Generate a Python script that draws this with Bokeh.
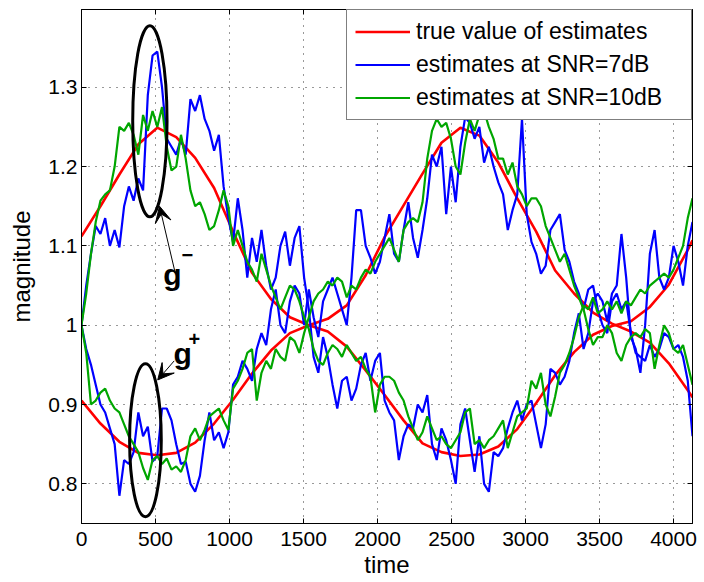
from bokeh.plotting import figure
from bokeh.models import (Range1d, FixedTicker, LinearAxis, Legend, LegendItem,
                          Label, Arrow, VeeHead, CustomJSTickFormatter)
from bokeh.embed import file_html
from bokeh.resources import INLINE

# ---- data -------------------------------------------------------------
# time index of the estimates (one value every 32 samples)
time = list(range(0, 4129, 32))

# true magnitudes of the two estimated gains
true_time = list(range(0, 4097, 128)) + [4128]
true_a = [1.112, 1.150, 1.190, 1.228, 1.249, 1.237, 1.211, 1.173, 1.118, 1.066,
          1.033, 1.010, 1.000, 0.992, 0.973, 0.943, 0.912, 0.880, 0.851, 0.840,
          0.835, 0.837, 0.847, 0.869, 0.902, 0.937, 0.966, 0.988, 0.999, 1.005,
          1.023, 1.051, 1.095, 1.107]
true_b = [0.905, 0.876, 0.853, 0.839, 0.836, 0.839, 0.852, 0.876, 0.906, 0.939,
          0.968, 0.990, 1.000, 1.008, 1.025, 1.063, 1.111, 1.151, 1.191, 1.230,
          1.249, 1.239, 1.205, 1.160, 1.118, 1.069, 1.040, 1.016, 1.002, 0.992,
          0.978, 0.952, 0.918, 0.909]

# estimates at SNR = 7 dB
snr7_a = [
    1.00, 1.05, 1.09, 1.125, 1.115, 1.135, 1.10, 1.12, 1.098, 1.15, 1.175, 1.157,
    1.185, 1.17, 1.29, 1.34, 1.345, 1.30, 1.235, 1.225, 1.215, 1.235, 1.215, 1.285,
    1.27, 1.29, 1.26, 1.245, 1.22, 1.24, 1.175, 1.135, 1.105, 1.16,
    1.12, 1.06, 1.11, 1.08, 1.12, 1.075, 1.045, 1.06, 1.10, 1.118, 1.075, 1.11,
    1.125, 1.06, 1.02, 0.96, 0.94, 0.985, 0.96, 0.925, 0.895, 0.93, 0.935, 0.905,
    0.92, 0.95, 0.965, 0.93, 0.955, 0.965, 0.905,
    0.89, 0.88, 0.83, 0.86, 0.875, 0.87, 0.90, 0.89, 0.912, 0.85, 0.83, 0.87,
    0.855, 0.83, 0.80, 0.875, 0.895, 0.855, 0.815, 0.86, 0.80, 0.79, 0.84, 0.835,
    0.845, 0.87, 0.89, 0.905, 0.88, 0.90, 0.905, 0.875,
    0.845, 0.875, 0.945, 0.94, 0.925, 0.935, 0.955, 0.99, 1.015, 0.97, 0.99, 1.03,
    1.04, 1.03, 1.005, 1.04, 1.05, 1.115, 1.06, 0.985, 0.97, 0.94, 1.0, 1.09,
    1.12, 1.06, 1.045, 1.06, 1.10, 1.08, 1.05, 1.10, 1.13,
]
snr7_b = [
    1.00, 0.97, 0.95, 0.925, 0.90, 0.89, 0.87, 0.85, 0.785, 0.83, 0.825, 0.84,
    0.89, 0.86, 0.872, 0.828, 0.835, 0.895, 0.895, 0.88, 0.85, 0.825, 0.828, 0.80,
    0.79, 0.81, 0.855, 0.89, 0.855, 0.865, 0.845, 0.865, 0.925, 0.935,
    0.955, 0.945, 0.93, 0.97, 0.99, 0.975, 1.02, 1.045, 1.0, 0.99, 1.03, 1.05,
    1.04, 1.0, 1.045, 1.01, 0.985, 1.03, 1.045, 1.06, 1.04, 1.02, 1.0, 1.06,
    1.145, 1.145, 1.10, 1.085, 1.065, 1.08, 1.11,
    1.14, 1.09, 1.08, 1.12, 1.155, 1.11, 1.085, 1.12, 1.16, 1.215, 1.20, 1.225,
    1.14, 1.20, 1.155, 1.225, 1.262, 1.255, 1.235, 1.25, 1.205, 1.225, 1.20, 1.18,
    1.165, 1.12, 1.145, 1.165, 1.26, 1.14, 1.105, 1.09,
    1.065, 1.075, 1.12, 1.13, 1.14, 1.095, 1.08, 1.055, 1.04, 1.02, 1.045, 1.05,
    1.02, 1.00, 0.99, 1.03, 1.04, 1.02, 1.03, 0.99, 0.965, 0.96, 0.955, 0.975,
    0.96, 0.97, 0.99, 0.985, 0.97, 0.975, 0.96, 0.93, 0.86,
]

# estimates at SNR = 10 dB
snr10_a = [
    1.00, 1.04, 1.09, 1.13, 1.157, 1.165, 1.17, 1.20, 1.25, 1.245, 1.255, 1.24,
    1.215, 1.265, 1.245, 1.27, 1.25, 1.275, 1.225, 1.195, 1.20, 1.24, 1.21, 1.17,
    1.15, 1.155, 1.14, 1.12, 1.125, 1.145, 1.17, 1.15, 1.10, 1.12,
    1.10, 1.08, 1.07, 1.055, 1.09, 1.07, 1.05, 1.035, 1.02, 1.035, 1.05, 1.045,
    1.03, 1.01, 0.995, 0.97, 0.955, 0.95, 0.965, 0.975, 0.97, 0.96, 0.975, 0.965,
    0.955, 0.96, 0.945, 0.935, 0.89, 0.925, 0.935,
    0.935, 0.93, 0.915, 0.905, 0.885, 0.87, 0.855, 0.865, 0.885, 0.87, 0.855, 0.86,
    0.85, 0.845, 0.855, 0.865, 0.89, 0.895, 0.85, 0.855, 0.845, 0.855, 0.86, 0.87,
    0.88, 0.845, 0.865, 0.885, 0.89, 0.895, 0.93, 0.92,
    0.94, 0.90, 0.885, 0.91, 0.94, 0.95, 0.965, 0.985, 1.01, 1.025, 1.02, 1.035,
    1.015, 1.02, 1.03, 1.02, 1.03, 1.015, 1.03, 1.025, 1.035, 1.045, 1.04, 1.05,
    1.055, 1.06, 1.065, 1.06, 1.07, 1.085, 1.10, 1.135, 1.16,
]
snr10_b = [
    1.00, 0.965, 0.90, 0.905, 0.915, 0.92, 0.905, 0.895, 0.89, 0.875, 0.86, 0.85,
    0.84, 0.82, 0.805, 0.83, 0.835, 0.825, 0.832, 0.818, 0.822, 0.815, 0.83, 0.86,
    0.87, 0.855, 0.868, 0.885, 0.89, 0.895, 0.88, 0.868, 0.92, 0.93,
    0.945, 0.965, 0.97, 0.905, 0.94, 0.955, 0.945, 0.97, 0.96, 0.955, 0.985, 0.98,
    0.965, 0.99, 1.01, 1.03, 1.04, 1.045, 1.055, 1.05, 1.06, 1.055, 1.035, 1.05,
    1.045, 1.06, 1.07, 1.065, 1.08, 1.09, 1.10,
    1.11, 1.095, 1.08, 1.12, 1.13, 1.135, 1.13, 1.155, 1.21, 1.245, 1.26, 1.25,
    1.255, 1.235, 1.20, 1.19, 1.23, 1.26, 1.245, 1.265, 1.27, 1.25, 1.235, 1.21,
    1.21, 1.19, 1.205, 1.175, 1.165, 1.15, 1.16, 1.16,
    1.15, 1.125, 1.11, 1.095, 1.08, 1.09, 1.07, 1.05, 1.035, 1.02, 0.995, 0.975,
    0.985, 0.985, 1.00, 0.99, 0.965, 0.955, 0.975, 0.985, 0.99, 0.985, 0.995, 0.99,
    0.945, 0.975, 1.0, 0.99, 0.97, 0.965, 0.975, 0.95, 0.925,
]

for series in (snr7_a, snr7_b, snr10_a, snr10_b):
    assert len(series) == len(time)
assert len(true_a) == len(true_time) == len(true_b)

x_ticks = [0, 500, 1000, 1500, 2000, 2500, 3000, 3500, 4000]
y_ticks = [0.8, 0.9, 1.0, 1.1, 1.2, 1.3]
legend_labels = ["true value of estimates", "estimates at SNR=7dB",
                 "estimates at SNR=10dB"]

# highlighted regions around the first peak of each gain
marks_x = [462, 432]
marks_y = [1.257, 0.855]
marks_w = [232, 214]
marks_h = [0.241, 0.193]

FONT = "Liberation Sans"
RED, BLUE, GREEN = "#ff0000", "#0000ff", "#00a600"

# ---- figure -----------------------------------------------------------
p = figure(width=704, height=582, output_backend="svg", toolbar_location=None,
           x_range=Range1d(0, 4128), y_range=Range1d(0.75, 1.398),
           min_border_left=81, min_border_right=12, min_border_top=9,
           min_border_bottom=59)
p.background_fill_color = "white"
p.border_fill_color = "white"
p.outline_line_color = "black"
p.outline_line_width = 1

r_true = p.line(true_time, true_a, line_color=RED, line_width=2.6)
p.line(true_time, true_b, line_color=RED, line_width=2.6)
r_snr7 = p.line(time, snr7_a, line_color=BLUE, line_width=2.2)
p.line(time, snr7_b, line_color=BLUE, line_width=2.2)
r_snr10 = p.line(time, snr10_a, line_color=GREEN, line_width=2.2)
p.line(time, snr10_b, line_color=GREEN, line_width=2.2)

p.ellipse(x=marks_x, y=marks_y, width=marks_w, height=marks_h,
          fill_color=None, line_color="black", line_width=3)

# arrows pointing at the highlighted regions
p.add_layout(Arrow(end=VeeHead(size=16, fill_color="black", line_color="black"),
                   x_start=633, y_start=1.066, x_end=527, y_end=1.150,
                   line_color="black", line_width=1))
p.add_layout(Arrow(end=VeeHead(size=16, fill_color="black", line_color="black"),
                   x_start=626, y_start=0.955, x_end=515, y_end=0.931,
                   line_color="black", line_width=1))

for gx, gy, sx, sy, sup in [(553, 1.064, 676, 1.088, "\u2212"),
                             (622, 0.964, 723, 0.982, "+")]:
    p.add_layout(Label(x=gx, y=gy, text="g", text_font=FONT,
                       text_font_size="30px", text_font_style="bold",
                       text_baseline="alphabetic", text_color="black"))
    p.add_layout(Label(x=sx, y=sy, text=sup, text_font=FONT,
                       text_font_size="20px", text_font_style="bold",
                       text_baseline="middle", text_color="black"))

# ---- axes -------------------------------------------------------------
for ax in (p.xaxis[0], p.yaxis[0]):
    ax.major_tick_in = 5
    ax.major_tick_out = 0
    ax.minor_tick_line_color = None
    ax.axis_line_color = "black"
    ax.major_tick_line_color = "black"
    ax.major_label_text_font = FONT
    ax.major_label_text_font_size = "21px"
    ax.major_label_text_color = "black"
    ax.axis_label_text_font = FONT
    ax.axis_label_text_font_size = "24px"
    ax.axis_label_text_font_style = "normal"
    ax.axis_label_text_color = "black"

p.xaxis.ticker = FixedTicker(ticks=x_ticks)
p.yaxis.ticker = FixedTicker(ticks=y_ticks)
p.yaxis.formatter = CustomJSTickFormatter(
    code="return Number(tick.toFixed(1)).toString();")
p.xaxis.axis_label = "time"
p.yaxis.axis_label = "magnitude"
p.xaxis.major_label_standoff = 8
p.yaxis.major_label_standoff = 4
p.xaxis.axis_label_standoff = 2
p.yaxis.axis_label_standoff = 10

for side, ticks in (("right", y_ticks), ("above", x_ticks)):
    ax = LinearAxis(ticker=FixedTicker(ticks=ticks),
                    formatter=CustomJSTickFormatter(code="return '';"),
                    major_tick_in=5, major_tick_out=0,
                    minor_tick_line_color=None, axis_line_color="black",
                    major_label_text_font_size="0px",
                    major_label_text_color=None, major_label_standoff=0)
    p.add_layout(ax, side)

for g, ticks in ((p.xgrid[0], x_ticks), (p.ygrid[0], y_ticks)):
    g.ticker = FixedTicker(ticks=ticks)
    g.grid_line_color = "#333333"
    g.grid_line_dash = "1 6"
    g.grid_line_width = 1

# ---- legend -----------------------------------------------------------
legend = Legend(items=[LegendItem(label=legend_labels[0], renderers=[r_true]),
                       LegendItem(label=legend_labels[1], renderers=[r_snr7]),
                       LegendItem(label=legend_labels[2], renderers=[r_snr10])],
                location="top_right", margin=0, padding=8, spacing=6,
                label_height=27, glyph_height=27, glyph_width=55,
                label_standoff=6, label_width=267,
                label_text_font=FONT, label_text_font_size="23px",
                label_text_color="black",
                border_line_color="black", border_line_width=1,
                background_fill_color="white", background_fill_alpha=1)
p.add_layout(legend)

open("out.html", "w").write(file_html(p, INLINE))
